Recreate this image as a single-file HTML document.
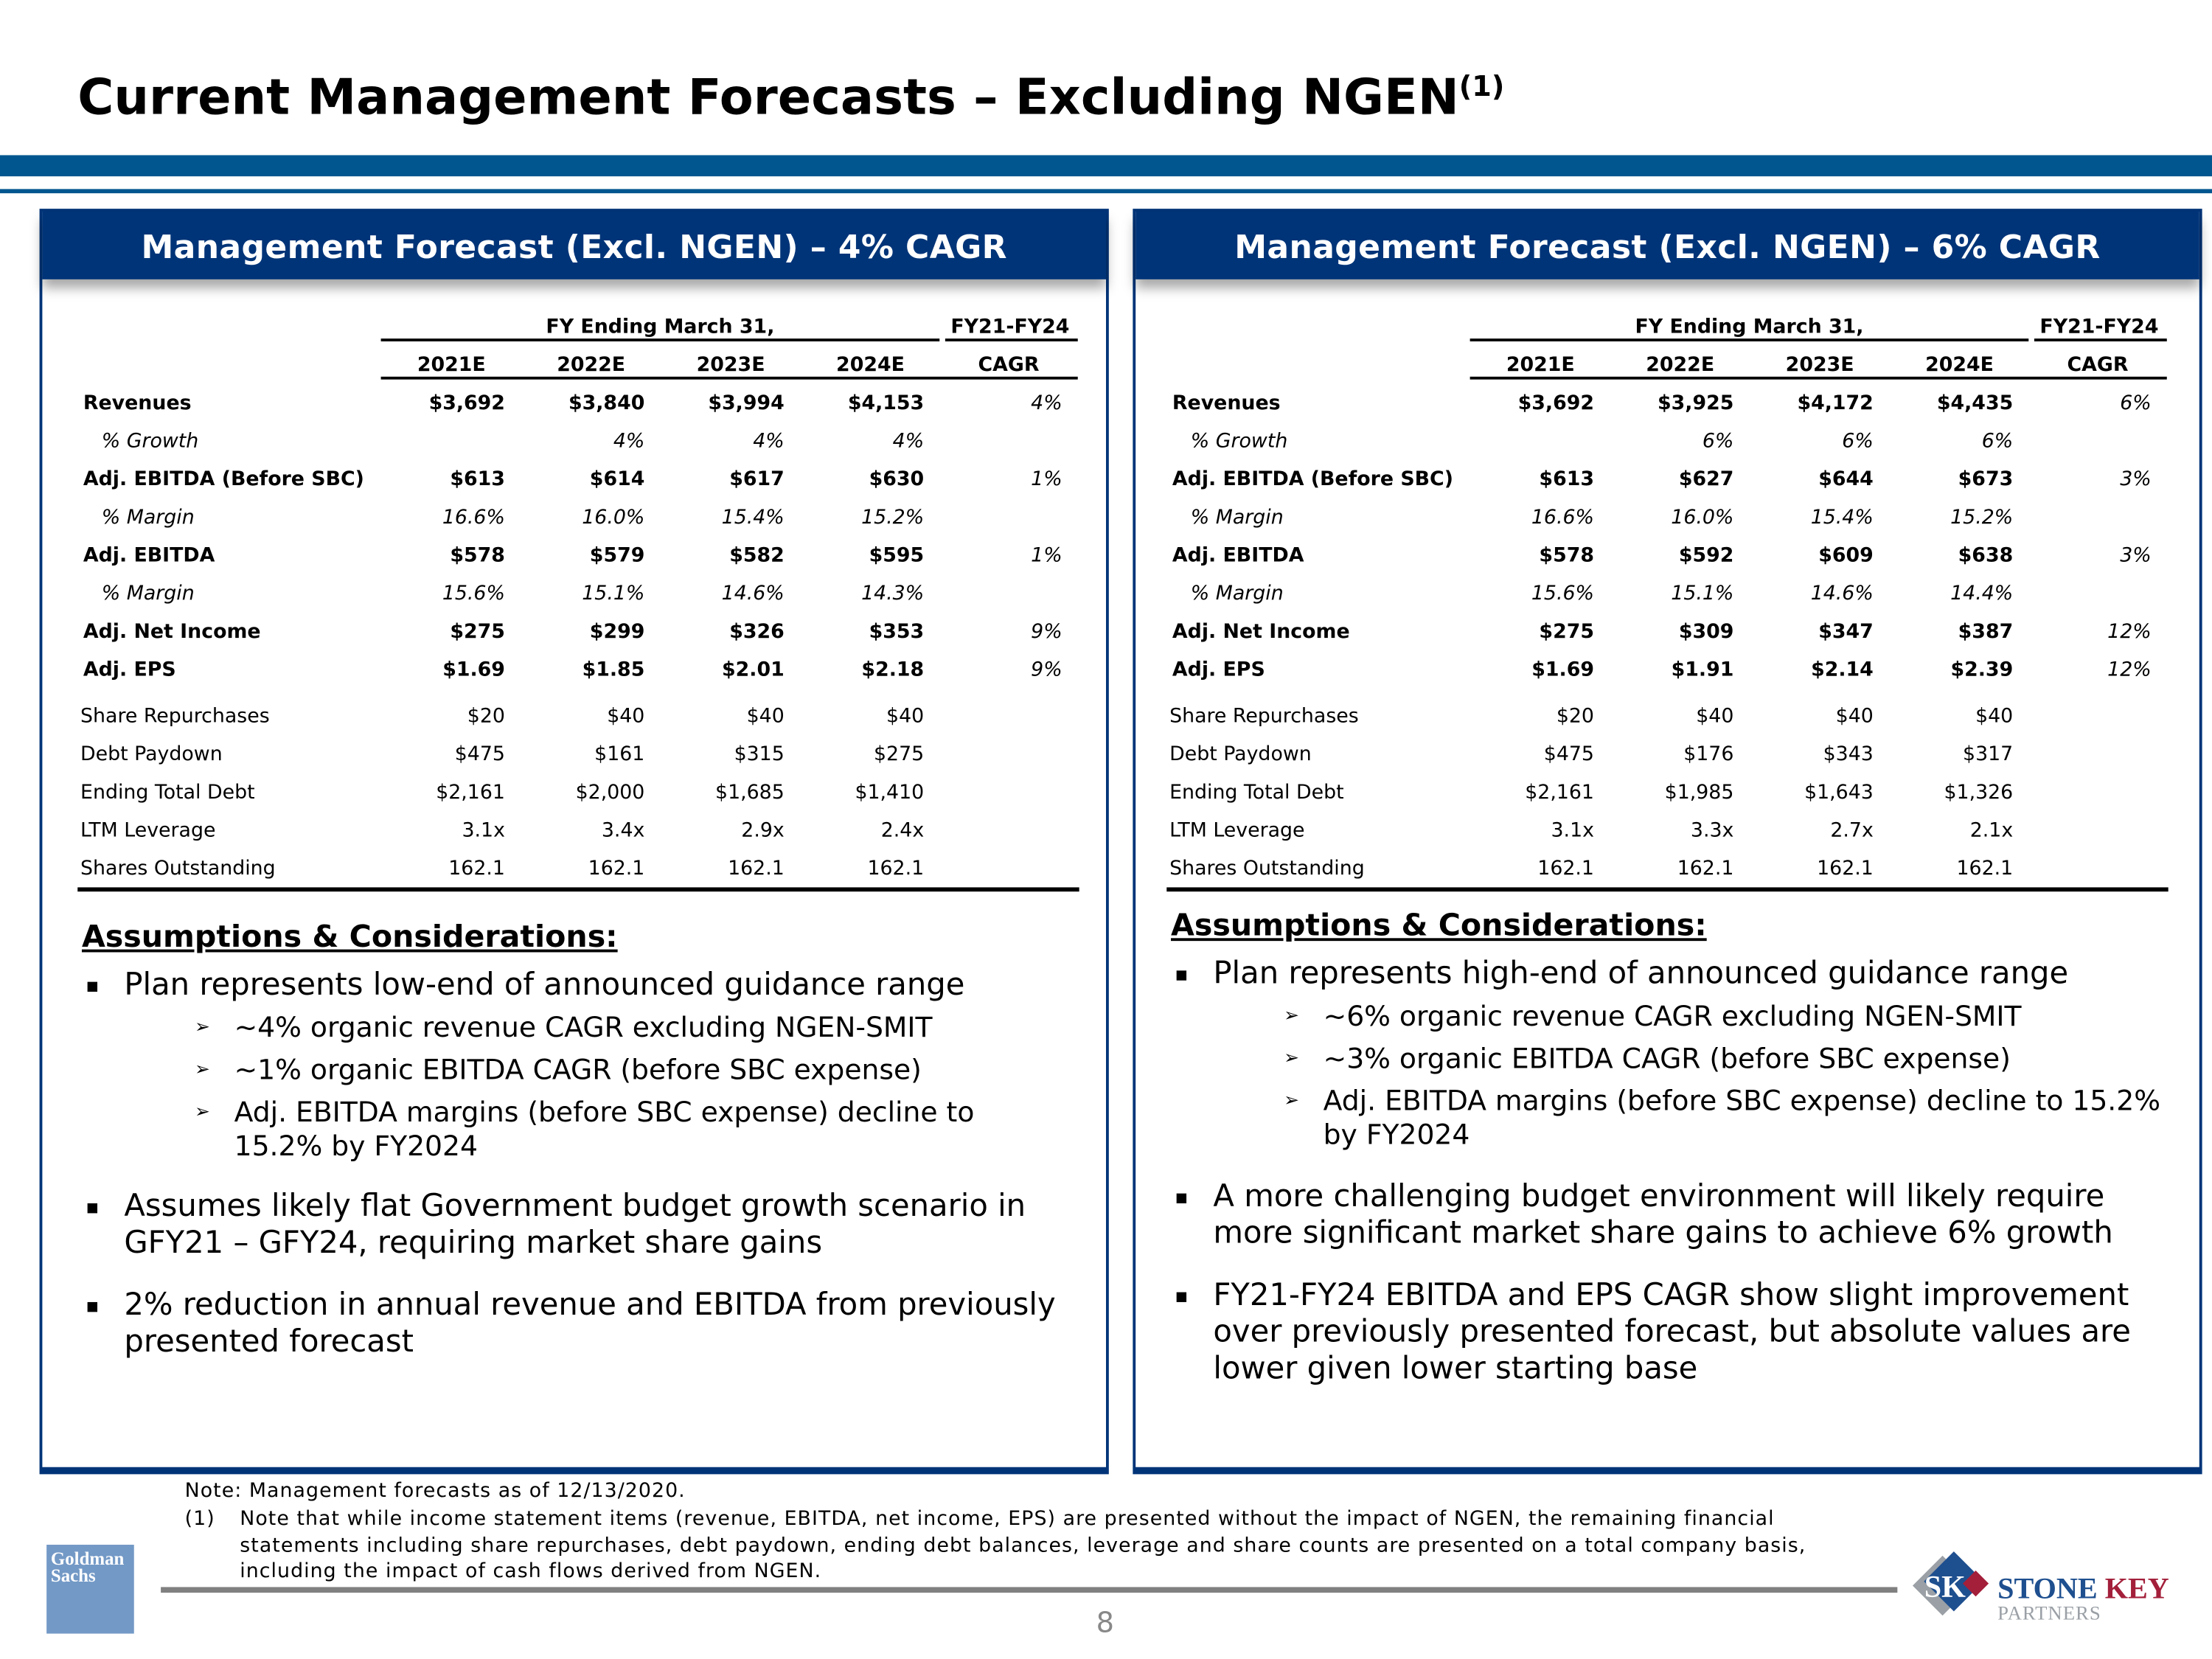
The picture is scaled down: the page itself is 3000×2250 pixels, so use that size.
<!DOCTYPE html>
<html><head><meta charset="utf-8">
<style>
html,body{margin:0;padding:0;background:#fff;}
body{width:3000px;height:2250px;overflow:hidden;}
#wrap{position:absolute;left:0;top:0;width:1568px;height:1176px;transform:scale(1.913265);transform-origin:0 0;font-family:"DejaVu Sans","Liberation Sans",sans-serif;color:#000;}
.a{position:absolute;white-space:nowrap;}
.panel{position:absolute;top:148px;width:754px;height:890px;border:2px solid #003478;border-bottom:5px solid #003478;box-sizing:content-box;}
.phead{position:absolute;left:0;top:0;width:100%;height:48px;background:#003478;color:#fff;font-weight:bold;font-size:23px;text-align:center;line-height:52px;box-shadow:0 6px 8px rgba(0,0,0,0.35);letter-spacing:0.2px;}
.t{position:absolute;font-size:14px;white-space:nowrap;line-height:16px;}
.b{font-weight:bold;}
.i{font-style:italic;}
.ul{position:absolute;height:1.5px;background:#000;}
.ass{position:absolute;font-weight:bold;font-size:21.5px;text-decoration:underline;white-space:nowrap;}
.bl{position:absolute;font-size:21.8px;line-height:26px;white-space:nowrap;}
.sb{position:absolute;font-size:19.7px;line-height:24px;white-space:nowrap;}
.sq{position:absolute;width:7px;height:7px;background:#000;}
.ar{position:absolute;font-size:13px;}
.fn{font-size:14px;letter-spacing:0.55px;}
</style></head>
<body>
<div id="wrap">
  <div class="a" style="left:55px;top:49px;font-size:35px;font-weight:bold;">Current Management Forecasts – Excluding NGEN<sup style="font-size:20px;">(1)</sup></div>
  <div class="a" style="left:0;top:110px;width:1568px;height:15px;background:#02568f;"></div>
  <div class="a" style="left:0;top:134px;width:1568px;height:3px;background:#02568f;"></div>

  <div class="panel" id="p0" style="left:28px;">
    <div class="phead">Management Forecast (Excl. NGEN) – 4% CAGR</div>
  </div>
  <div class="panel" id="p1" style="left:803px;">
    <div class="phead">Management Forecast (Excl. NGEN) – 6% CAGR</div>
  </div>

  <div class="a fn" style="left:131px;top:1049px;">Note: Management forecasts as of 12/13/2020.</div>
  <div class="a fn" style="left:131px;top:1068px;line-height:18.5px;">(1)</div>
  <div class="a fn" style="left:170px;top:1068px;line-height:18.5px;">Note that while income statement items (revenue, EBITDA, net income, EPS) are presented without the impact of NGEN, the remaining financial<br>statements including share repurchases, debt paydown, ending debt balances, leverage and share counts are presented on a total company basis,<br>including the impact of cash flows derived from NGEN.</div>
  <div class="a" style="left:114px;top:1125px;width:1231px;height:4px;background:#808080;"></div>
  <div class="a" style="left:777px;top:1138px;font-size:20px;color:#888;">8</div>
  <div class="a" style="left:33px;top:1095px;width:62px;height:63px;background:#7399c6;color:#fff;font-family:'Liberation Serif',serif;font-weight:bold;font-size:13px;line-height:12px;padding:4px 0 0 3px;box-sizing:border-box;">Goldman<br>Sachs</div>
  <div class="a" style="left:1358px;top:1100px;width:200px;height:60px;">
    <div style="position:absolute;left:4px;top:9px;width:30px;height:30px;background:#9aa0a6;transform:rotate(45deg);"></div>
    <div style="position:absolute;left:12px;top:6px;width:30px;height:30px;background:#1e4f8f;transform:rotate(45deg);"></div>
    <div style="position:absolute;left:36px;top:16px;width:13px;height:13px;background:#a31f3a;transform:rotate(45deg);"></div>
    <div style="position:absolute;left:6px;top:12px;font-family:'Liberation Serif',serif;font-weight:bold;font-size:22px;color:#fff;">SK</div>
    <div style="position:absolute;left:58px;top:14px;font-family:'Liberation Serif',serif;font-weight:bold;font-size:21px;color:#1e4f8f;">STONE <span style="color:#a31f3a;">KEY</span></div>
    <div style="position:absolute;left:58px;top:37px;font-family:'Liberation Serif',serif;font-size:14px;color:#9aa0a6;letter-spacing:0.5px;">PARTNERS</div>
  </div>
</div>
<script>
var years = ['2021E','2022E','2023E','2024E'];
var rowLabels = ['Revenues','% Growth','Adj. EBITDA (Before SBC)','% Margin','Adj. EBITDA','% Margin','Adj. Net Income','Adj. EPS','Share Repurchases','Debt Paydown','Ending Total Debt','LTM Leverage','Shares Outstanding'];
var rowStyle = ['b','i','b','i','b','i','b','b','n','n','n','n','n'];
var leftVals = [
 ['$3,692','$3,840','$3,994','$4,153','4%'],
 ['','4%','4%','4%',''],
 ['$613','$614','$617','$630','1%'],
 ['16.6%','16.0%','15.4%','15.2%',''],
 ['$578','$579','$582','$595','1%'],
 ['15.6%','15.1%','14.6%','14.3%',''],
 ['$275','$299','$326','$353','9%'],
 ['$1.69','$1.85','$2.01','$2.18','9%'],
 ['$20','$40','$40','$40',''],
 ['$475','$161','$315','$275',''],
 ['$2,161','$2,000','$1,685','$1,410',''],
 ['3.1x','3.4x','2.9x','2.4x',''],
 ['162.1','162.1','162.1','162.1','']];
var rightVals = [
 ['$3,692','$3,925','$4,172','$4,435','6%'],
 ['','6%','6%','6%',''],
 ['$613','$627','$644','$673','3%'],
 ['16.6%','16.0%','15.4%','15.2%',''],
 ['$578','$592','$609','$638','3%'],
 ['15.6%','15.1%','14.6%','14.4%',''],
 ['$275','$309','$347','$387','12%'],
 ['$1.69','$1.91','$2.14','$2.39','12%'],
 ['$20','$40','$40','$40',''],
 ['$475','$176','$343','$317',''],
 ['$2,161','$1,985','$1,643','$1,326',''],
 ['3.1x','3.3x','2.7x','2.1x',''],
 ['162.1','162.1','162.1','162.1','']];
var rowTops = [278,305,332,359,386,413,440,467,500,527,554,581,608];
var colRight = [328,427,526,625,723];

function mk(parent, cls, txt, x, y, w, align){
  var d=document.createElement('div');
  d.className=cls; d.textContent=txt;
  d.style.left=x+'px'; d.style.top=y+'px';
  if(w){d.style.width=w+'px';}
  if(align){d.style.textAlign=align;}
  parent.appendChild(d); return d;
}
function line(parent,x,y,w,h){
  var d=document.createElement('div'); d.className='ul';
  d.style.left=x+'px'; d.style.top=y+'px'; d.style.width=w+'px'; d.style.height=(h||1.5)+'px';
  parent.appendChild(d); return d;
}
function buildTable(panelId, offX, vals){
  var p=document.getElementById(panelId);
  var wrap=document.getElementById('wrap');
  var left=parseInt(p.style.left)+2;
  function X(x){return left+x+offX;}
  var h=mk(wrap,'t b','FY Ending March 31,',X(240),224,396,'center');
  
  
  var l=line(wrap,X(240),240,396);
  
  
  var c=mk(wrap,'t b','FY21-FY24',X(638),224,96,'center');
  
  
  var l2=line(wrap,X(640),240,94);
  
  
  var heads=years.concat(['CAGR']);
  for(var k=0;k<heads.length;k++){
    var hd=mk(wrap,'t b',heads[k],X(colRight[k]-83),251,90,'center');
    
    
  }
  var l3=line(wrap,X(240),267,494);
  
  
  for(var r=0;r<rowLabels.length;r++){
    var st=rowStyle[r];
    var cls='t '+(st==='b'?'b':st==='i'?'i':'');
    var lx = st==='i'?42:(st==='b'?29:27);
    var lab=mk(wrap,cls,rowLabels[r],X(lx),rowTops[r]);
    
    
    for(var k=0;k<5;k++){
      var v=vals[r][k]; if(!v) continue;
      var ccls = (k===4)?'t i':cls;
      var cell=mk(wrap,ccls,v,X(colRight[k]-100),rowTops[r],100,'right');
      
      
    }
  }
  var l4=line(wrap,X(25),629,710,2.5);
  
  
}
buildTable('p0',0,leftVals);
buildTable('p1',-3,rightVals);

var leftBullets=[
 {t:'bl',y:686,txt:'Plan represents low-end of announced guidance range'},
 {t:'sb',y:717,txt:'~4% organic revenue CAGR excluding NGEN-SMIT'},
 {t:'sb',y:747,txt:'~1% organic EBITDA CAGR (before SBC expense)'},
 {t:'sb',y:777,txt:'Adj. EBITDA margins (before SBC expense) decline to\n15.2% by FY2024'},
 {t:'bl',y:843,txt:'Assumes likely flat Government budget growth scenario in\nGFY21 – GFY24, requiring market share gains'},
 {t:'bl',y:913,txt:'2% reduction in annual revenue and EBITDA from previously\npresented forecast'}];
var rightBullets=[
 {t:'bl',y:678,txt:'Plan represents high-end of announced guidance range'},
 {t:'sb',y:709,txt:'~6% organic revenue CAGR excluding NGEN-SMIT'},
 {t:'sb',y:739,txt:'~3% organic EBITDA CAGR (before SBC expense)'},
 {t:'sb',y:769,txt:'Adj. EBITDA margins (before SBC expense) decline to 15.2%\nby FY2024'},
 {t:'bl',y:836,txt:'A more challenging budget environment will likely require\nmore significant market share gains to achieve 6% growth'},
 {t:'bl',y:906,txt:'FY21-FY24 EBITDA and EPS CAGR show slight improvement\nover previously presented forecast, but absolute values are\nlower given lower starting base'}];
function buildBullets(px, titleY, list){
  var wrap=document.getElementById('wrap');
  var ttl=mk(wrap,'ass','Assumptions & Considerations:',px+30,titleY);
  
  
  for(var i=0;i<list.length;i++){
    var it=list[i];
    var isMain = it.t==='bl';
    var d=mk(wrap,it.t,'',px+(isMain?60:138),it.y);
    d.innerHTML=it.txt.replace(/\n/g,'<br>');
    
    
    var m;
    if(isMain){ m=mk(wrap,'sq','',px+34,it.y+10); }
    else { m=mk(wrap,'ar','➢',px+110,it.y+4); }
    
    
  }
}
buildBullets(28,652,leftBullets);
buildBullets(800,644,rightBullets);
</script>
</body></html>
